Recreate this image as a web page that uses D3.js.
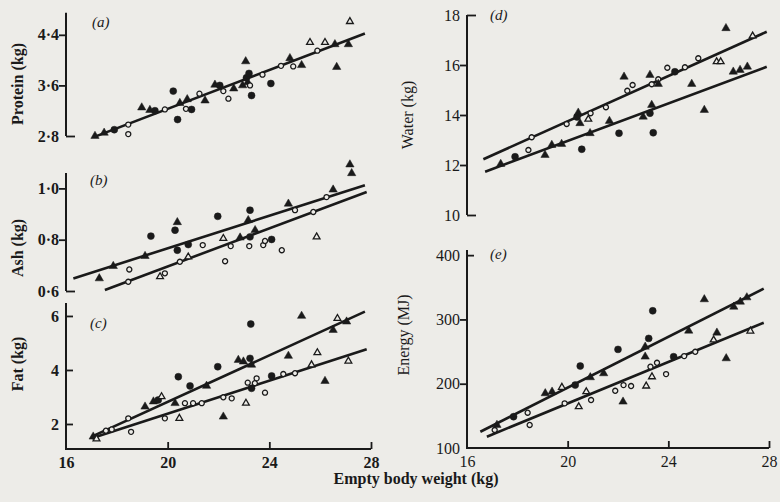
<!DOCTYPE html>
<html>
<head>
<meta charset="utf-8">
<script src="https://cdn.jsdelivr.net/npm/d3@7"></script>
<style>
body{margin:0;background:#edece8;}
svg{display:block;}
text{font-family:"Liberation Serif","DejaVu Serif",serif;fill:#1a1a1a;}
</style>
</head>
<body>
<script>
// points: [empty body weight (kg), component, group]
// group: fc filled circle, oc open circle, ft filled triangle, ot open triangle
var protein = [
    [17.14,2.80,"ft"],[17.5,2.85,"ft"],[17.9,2.90,"fc"],[18.45,2.98,"oc"],[18.45,2.83,"oc"],
    [18.98,3.25,"ft"],[19.30,3.21,"ft"],[19.5,3.20,"fc"],[19.89,3.22,"oc"],[20.22,3.51,"fc"],
    [20.39,3.06,"fc"],[20.48,3.32,"ft"],[20.77,3.38,"ft"],[20.72,3.23,"oc"],[20.94,3.22,"fc"],
    [21.25,3.47,"oc"],[21.47,3.36,"ft"],[21.86,3.61,"ft"],[22.05,3.60,"fc"],[22.19,3.51,"oc"],
    [22.39,3.39,"oc"],[22.6,3.55,"ft"],[23.07,3.98,"ft"],[23.10,3.72,"fc"],[23.2,3.79,"fc"],
    [23.15,3.65,"ft"],[22.95,3.60,"ft"],[23.24,3.60,"oc"],[23.3,3.44,"fc"],[23.73,3.77,"oc"],
    [24.06,3.63,"fc"],[24.46,3.91,"oc"],[24.81,4.03,"ft"],[24.94,3.90,"oc"],[25.27,3.92,"ft"],
    [25.6,4.28,"ot"],[25.89,4.15,"oc"],[26.19,4.28,"ot"],[26.58,4.25,"ft"],[26.65,3.89,"ft"],
    [27.11,4.25,"ft"],[27.17,4.61,"ot"]
];
var ash = [
    [17.31,0.649,"ft"],[17.86,0.697,"ft"],[18.49,0.684,"oc"],[18.45,0.636,"oc"],[19.11,0.736,"ft"],
    [19.34,0.814,"fc"],[19.70,0.656,"ot"],[19.89,0.669,"oc"],[20.29,0.837,"fc"],[20.38,0.868,"ft"],
    [20.38,0.759,"fc"],[20.48,0.714,"oc"],[20.81,0.733,"ot"],[20.81,0.781,"fc"],[21.38,0.779,"oc"],
    [21.97,0.891,"fc"],[22.26,0.716,"oc"],[22.19,0.805,"ot"],[22.48,0.775,"oc"],[22.85,0.808,"ft"],
    [23.24,0.915,"fc"],[23.17,0.876,"ft"],[23.24,0.811,"fc"],[23.44,0.837,"ft"],[23.21,0.775,"oc"],
    [23.76,0.779,"oc"],[23.83,0.795,"oc"],[24.09,0.801,"fc"],[24.49,0.759,"oc"],[24.75,0.940,"ft"],
    [25.01,0.915,"oc"],[25.73,0.908,"oc"],[25.86,0.811,"ot"],[26.25,0.966,"oc"],[26.51,0.995,"ft"],
    [27.17,1.093,"ft"],[27.24,1.059,"ft"]
];
var fat = [
    [17.07,1.53,"ft"],[17.2,1.45,"ot"],[17.57,1.75,"oc"],[17.8,1.8,"oc"],[18.45,2.21,"oc"],
    [18.56,1.71,"oc"],[19.11,2.64,"ft"],[19.44,2.83,"ft"],[19.63,2.89,"fc"],[19.76,3.01,"ot"],
    [19.89,2.21,"oc"],[20.42,3.75,"fc"],[20.46,2.21,"ot"],[20.29,2.77,"ft"],[20.68,2.77,"oc"],
    [21.0,2.77,"oc"],[21.34,2.77,"oc"],[20.88,3.41,"fc"],[21.53,3.41,"ft"],[21.97,4.12,"fc"],
    [22.19,2.27,"ft"],[22.19,2.99,"oc"],[22.52,2.95,"oc"],[22.78,4.37,"ft"],[22.98,4.31,"ft"],
    [23.24,4.43,"fc"],[23.30,4.19,"ft"],[23.08,2.77,"ot"],[23.15,3.53,"oc"],[23.50,3.69,"oc"],
    [23.43,3.51,"oc"],[23.30,3.32,"fc"],[23.83,3.16,"oc"],[23.27,5.70,"fc"],[24.09,3.78,"fc"],
    [24.55,3.85,"oc"],[25.01,3.88,"oc"],[24.75,4.52,"ft"],[25.27,6.0,"ft"],[25.89,4.64,"ot"],
    [25.66,4.19,"ot"],[26.19,3.59,"ft"],[26.68,5.91,"ot"],[26.51,5.48,"ft"],[27.04,5.79,"ft"],
    [27.11,4.33,"ot"]
];
var water = [
    [17.34,12.04,"ft"],[17.91,12.33,"fc"],[18.57,13.11,"oc"],[18.44,12.6,"oc"],[19.10,12.4,"ft"],
    [19.37,12.8,"ft"],[19.76,12.84,"ft"],[19.96,13.64,"oc"],[20.56,12.63,"fc"],[20.37,13.92,"fc"],
    [20.49,13.67,"ft"],[20.42,14.09,"ft"],[20.82,13.83,"ot"],[20.91,14.07,"oc"],[20.89,13.27,"ft"],
    [21.52,14.31,"oc"],[21.66,13.76,"ft"],[22.04,13.27,"fc"],[22.24,15.53,"ft"],[22.37,14.97,"oc"],
    [22.58,15.2,"oc"],[23.0,13.93,"ft"],[23.34,14.4,"ft"],[23.27,14.07,"fc"],[23.27,15.6,"ft"],
    [23.34,15.23,"oc"],[23.6,15.43,"oc"],[23.6,15.24,"ft"],[23.40,13.29,"fc"],[23.96,15.89,"oc"],
    [24.26,15.73,"fc"],[24.66,15.91,"oc"],[25.19,16.27,"oc"],[24.93,15.24,"ft"],[25.43,14.2,"ft"],
    [25.92,16.13,"ot"],[26.08,16.13,"ot"],[26.29,17.47,"ft"],[26.58,15.73,"ft"],[26.85,15.8,"ft"],
    [27.14,15.93,"ft"],[27.35,17.16,"ot"]
];
var energy = [
    [17.19,135.8,"ft"],[17.1,128,"oc"],[17.85,148.7,"fc"],[18.41,154.9,"oc"],[18.49,135.8,"oc"],
    [19.11,185,"ft"],[19.38,187.5,"ft"],[19.77,194.4,"ot"],[20.30,197.9,"fc"],[19.88,169.5,"oc"],
    [20.50,227.5,"fc"],[20.44,164.2,"ot"],[20.74,187.5,"ot"],[20.93,174.6,"oc"],[20.90,209.9,"ft"],
    [21.43,216.1,"ft"],[21.89,189,"oc"],[22.22,197.9,"oc"],[22.52,196.4,"oc"],[22.0,253.4,"fc"],
    [22.20,172,"ft"],[23.12,196.4,"ot"],[23.22,270.5,"fc"],[23.08,257.5,"ft"],[23.08,242,"ft"],
    [23.38,313.4,"fc"],[23.29,226.4,"oc"],[23.55,232.6,"oc"],[23.35,210.8,"ot"],[23.91,215,"oc"],
    [24.21,242,"fc"],[24.63,243,"oc"],[25.07,249.7,"oc"],[24.81,282.4,"ft"],[25.43,331.2,"ft"],
    [25.93,279.3,"ft"],[25.80,268,"ot"],[26.30,239.4,"ft"],[26.60,319.6,"ft"],[26.86,327.4,"ft"],
    [27.12,334.2,"ft"],[27.26,281.9,"ot"]
];

// fitted lines: [x1, y1, x2, y2]
var proteinLines = [[17.14,2.79,27.76,4.42]];
var ashLines = [[16.29,0.649,27.76,1.012],[17.53,0.604,27.83,0.986]];
var fatLines = [[17.01,1.53,27.76,6.16],[17.01,1.47,27.83,4.77]];
var waterLines = [[16.65,12.23,27.91,17.33],[16.72,11.73,27.91,15.93]];
var energyLines = [[16.53,125.3,27.79,348],[16.79,117.6,27.79,294.8]];

var xTicks = [16,20,24,28];
var proteinTicks = [2.8,3.6,4.4];
var ashTicks = [0.6,0.8,1.0];
var fatTicks = [2,4,6];
var waterTicks = [10,12,14,16,18];
var energyTicks = [100,200,300,400];

var width = 780;
var height = 502;
var ink = "#1a1a1a";

var svg = d3.select("body")
    .append("svg")
    .attr("width",width)
    .attr("height",height);

svg.append("rect")
    .attr("width",width)
    .attr("height",height)
    .attr("fill","#edece8");

var xLeft = d3.scaleLinear().domain([16,28]).range([66,371]);
var xRight = d3.scaleLinear().domain([16,28]).range([467,769]);

var dotFmt = function(d){ return d3.format(".1f")(d).replace(".","\u00b7"); };
var intFmt = d3.format("d");

// tick length per tick: negative = outward (left), positive = inward stub
var panels = [
    {label:"(a)", title:"Protein (kg)", data:protein, lines:proteinLines, x:xLeft,
     y:d3.scaleLinear().domain([2.8,4.75]).range([136,12.7]),
     ticks:proteinTicks, len:[9,-7,-7], fmt:dotFmt, bold:true,
     titlePos:[17,84], labelPos:[92,27], xAxis:false},
    {label:"(b)", title:"Ash (kg)", data:ash, lines:ashLines, x:xLeft,
     y:d3.scaleLinear().domain([0.6,1.06]).range([291,173]),
     ticks:ashTicks, len:[9,-7,-7], fmt:dotFmt, bold:true,
     titlePos:[17,248], labelPos:[90,185], xAxis:false},
    {label:"(c)", title:"Fat (kg)", data:fat, lines:fatLines, x:xLeft,
     y:d3.scaleLinear().domain([1.074,6.48]).range([449,303]),
     ticks:fatTicks, len:[7,7,7], fmt:intFmt, bold:true,
     titlePos:[17,364], labelPos:[90,328], xAxis:true},
    {label:"(d)", title:"Water (kg)", data:water, lines:waterLines, x:xRight,
     y:d3.scaleLinear().domain([10,18]).range([215,15]),
     ticks:waterTicks, len:[9,-7,-7,-7,9], fmt:intFmt, bold:false,
     titlePos:[407,115], labelPos:[490,20], xAxis:false},
    {label:"(e)", title:"Energy (MJ)", data:energy, lines:energyLines, x:xRight,
     y:d3.scaleLinear().domain([100,408]).range([448,250]),
     ticks:energyTicks, len:[0,-7,-7,7], fmt:intFmt, bold:false,
     titlePos:[403,335], labelPos:[490,259], xAxis:true}
];

var circle = d3.symbol().type(d3.symbolCircle);
var tri = d3.symbol().type(d3.symbolTriangle);

panels.forEach(function(p){
    var g = svg.append("g");
    var x0 = p.x(16);
    var yr = p.y.range();

    // y axis
    var ya = g.append("g")
        .attr("transform","translate("+x0+",0)")
        .call(d3.axisLeft(p.y).tickValues(p.ticks).tickFormat(p.fmt).tickSize(0).tickPadding(7));
    ya.select(".domain").remove();
    ya.selectAll(".tick line")
        .attr("x2",function(d,i){ return p.len[i]; })
        .attr("stroke",ink)
        .attr("stroke-width",1.8);
    ya.selectAll(".tick text")
        .attr("font-family","Liberation Serif")
        .attr("font-size",16)
        .attr("font-weight",p.bold ? "bold" : "normal")
        .attr("fill",ink);

    var path = "M"+x0+","+yr[1]+"V"+yr[0];
    if(p.xAxis){
        path += "H"+p.x(28);
    }
    g.append("path")
        .attr("d",path)
        .attr("fill","none")
        .attr("stroke",ink)
        .attr("stroke-width",2);

    // x axis
    if(p.xAxis){
        var xa = g.append("g")
            .attr("transform","translate(0,"+yr[0]+")")
            .call(d3.axisBottom(p.x).tickValues(xTicks).tickFormat(intFmt).tickSize(0).tickPadding(8));
        xa.select(".domain").remove();
        xa.selectAll(".tick line")
            .attr("y2",function(d){ return d === 16 ? 0 : -7; })
            .attr("stroke",ink)
            .attr("stroke-width",1.8);
        xa.selectAll(".tick text")
            .attr("font-family","Liberation Serif")
            .attr("font-size",16)
            .attr("font-weight",p.bold ? "bold" : "normal")
            .attr("fill",ink);
    }

    // fitted lines
    g.selectAll(".fit")
        .data(p.lines)
        .enter()
        .append("line")
        .attr("x1",function(d){ return p.x(d[0]); })
        .attr("y1",function(d){ return p.y(d[1]); })
        .attr("x2",function(d){ return p.x(d[2]); })
        .attr("y2",function(d){ return p.y(d[3]); })
        .attr("stroke",ink)
        .attr("stroke-width",2.6);

    // points
    g.selectAll(".pt")
        .data(p.data)
        .enter()
        .append("path")
        .attr("transform",function(d){ return "translate("+p.x(d[0])+","+p.y(d[1])+")"; })
        .attr("d",function(d){
            if(d[2] === "fc") return circle.size(38)();
            if(d[2] === "oc") return circle.size(20)();
            if(d[2] === "ft") return tri.size(30)();
            return tri.size(20)();
        })
        .attr("fill",function(d){ return d[2].charAt(0) === "f" ? ink : "#edece8"; })
        .attr("stroke",ink)
        .attr("stroke-width",function(d){ return d[2].charAt(0) === "f" ? 0.5 : 1.3; });

    // titles
    g.append("text")
        .attr("transform","translate("+p.titlePos[0]+","+p.titlePos[1]+") rotate(-90)")
        .attr("text-anchor","middle")
        .attr("dy","0.35em")
        .attr("font-size",16)
        .attr("font-weight",p.bold ? "bold" : "normal")
        .text(p.title);

    g.append("text")
        .attr("x",p.labelPos[0])
        .attr("y",p.labelPos[1])
        .attr("font-size",15)
        .attr("font-style","italic")
        .text(p.label);
});

svg.append("text")
    .attr("x",416)
    .attr("y",484)
    .attr("text-anchor","middle")
    .attr("font-size",16)
    .attr("font-weight","bold")
    .text("Empty body weight (kg)");
</script>
</body>
</html>
